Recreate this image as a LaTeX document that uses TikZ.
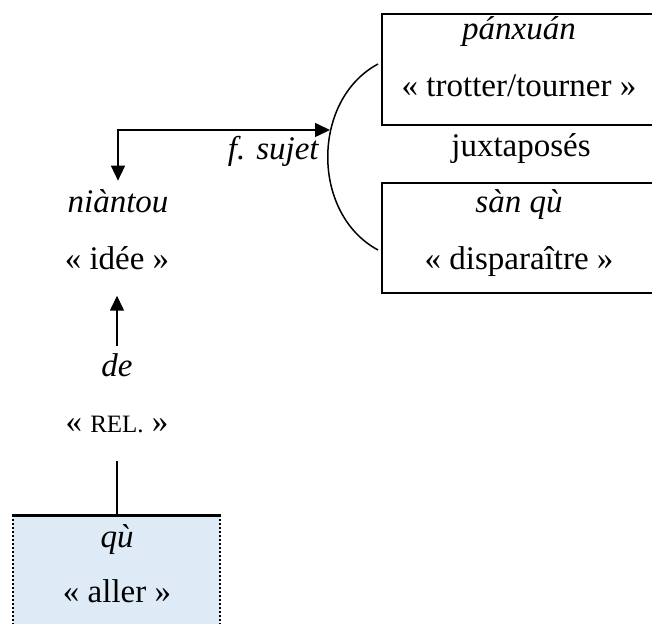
\documentclass[tikz,border=0pt]{standalone}
\usepackage{fontspec}
\setmainfont{Liberation Serif}
\usetikzlibrary{arrows.meta}
\definecolor{boxblue}{HTML}{DEEBF7}
\begin{document}
\begin{tikzpicture}[x=0.5pt,y=-0.5pt,
  txt/.style={font=\fontsize{16.5}{19}\selectfont, inner sep=0pt, anchor=base},
  ln/.style={line width=0.75pt},
  tri/.tip={Triangle[length=7.5pt,width=7pt]}]
\useasboundingbox (0,0) rectangle (652,624);
% right boxes
\draw[ln] (652,14) -- (382,14) -- (382,125) -- (652,125);
\draw[ln] (652,183) -- (382,183) -- (382,293) -- (652,293);
% bottom box
\fill[boxblue] (13,515) rectangle (220,624);
\draw[line width=1.5pt] (12,515) -- (221,515);
\draw[line width=1pt, dash pattern=on 1.2pt off 0.8pt] (13,515) -- (13,624) (220,515) -- (220,624);
% texts
\node[txt] (panx) at (519,40) {\itshape pánxuán};
\node[txt] (trot) at (519,97) {« trotter/tourner »};
\node[txt] (juxt) at (521,157) {juxtaposés};
\node[txt] (sanq) at (519,213) {\itshape sàn qù};
\node[txt] (disp) at (519,270) {« disparaître »};
\node[txt] (nian) at (118,213) {\itshape niàntou};
\node[txt] (idee) at (117,270) {« idée »};
\node[txt] (de) at (117,377) {\itshape de};
\node[txt] (rel) at (117,432) {« {\fontsize{12.5}{15}\selectfont REL.} »};
\node[txt] (qu) at (117,547) {\itshape qù};
\node[txt] (aller) at (117,602) {« aller »};
\node[txt, anchor=base east] (fs) at (319,160) {\itshape f. sujet};
% bracket
\draw[ln] (378,64) .. controls (311,100) and (311,214) .. (378,250);
\coordinate (ct) at (330,130);
\coordinate (qtop) at (117,515);
% connectors
\draw[ln, {tri}-{tri}, shorten <=4.5pt] (nian.north) |- (ct);
\draw[ln, -{tri}, shorten <=4pt, shorten >=12.5pt] (de.north) -- (idee.south);
\draw[ln, shorten <=14pt] (rel.south) -- (qtop);
\end{tikzpicture}
\end{document}
